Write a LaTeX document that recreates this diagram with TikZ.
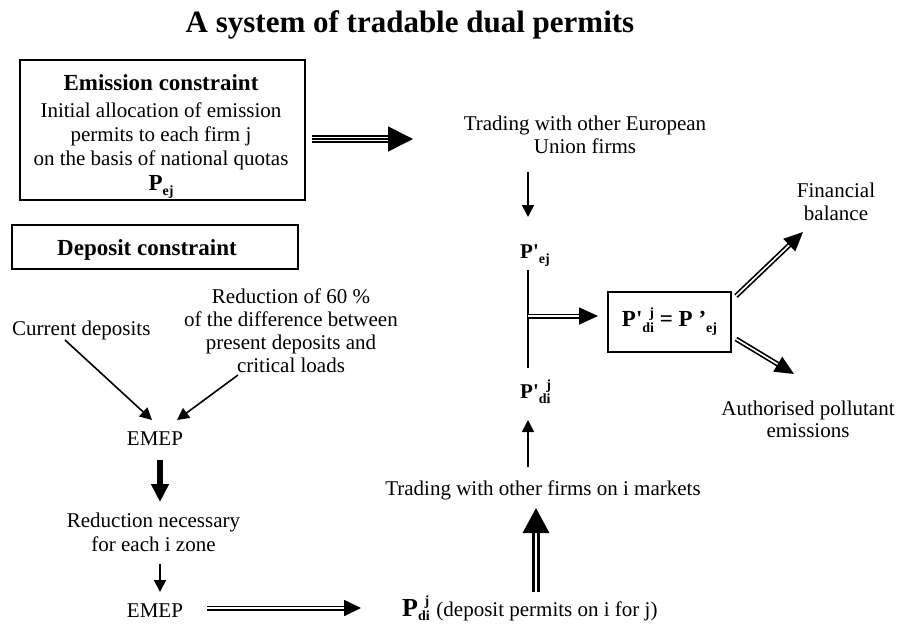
\documentclass[tikz,border=0pt]{standalone}
\usepackage{fontspec}
\setmainfont{Liberation Serif}
\usetikzlibrary{arrows.meta}
\newcommand\mysub[1]{\raisebox{-0.26em}{\fontsize{14}{14}\selectfont\bfseries #1}}
\newcommand\mysup[1]{\raisebox{0.40em}{\fontsize{14}{14}\selectfont\bfseries #1}}
\begin{document}
\begin{tikzpicture}[x=1pt,y=-1pt,
  txt/.style={inner sep=0pt, font=\fontsize{21}{23}\selectfont, align=center},
  head/.style={font=\bfseries\fontsize{23}{23}\selectfont},
  boxst/.style={draw, line width=2pt, inner sep=0pt},
  thinarr/.style={line width=1.6pt, -{Triangle[length=12pt,width=12pt]}},
  dblarr/.style={line width=1.7pt, double, double distance=1.6pt, -{Triangle[length=19pt,width=17pt]}},
  triarr/.style={line width=1.6pt, double, double distance=4.8pt, -{Triangle[length=25pt,width=25pt]}},
  heavyarr/.style={line width=3.3pt, double, double distance=1.4pt, -{Triangle[length=25pt,width=26pt]}},
  solidarr/.style={line width=6pt, -{Triangle[length=18pt,width=17pt]}}
]
\useasboundingbox (0,0) rectangle (897,624);

% title
\node[inner sep=0pt, font=\bfseries\fontsize{31}{31}\selectfont, anchor=base] (title) at (410,32) {A system of tradable dual permits};

% emission constraint box (multi-line nodes: base = last baseline)
\node[boxst, minimum width=285pt, minimum height=140pt] (emisbox) at (162.5,130) {};
\node[txt, font=\fontsize{21}{24}\selectfont, anchor=base] (emis) at (161,190)
  {{\bfseries\fontsize{23}{23}\selectfont Emission constraint}\\[3pt]
   Initial allocation of emission\\
   permits to each firm j\\
   on the basis of national quotas\\[1pt]
   {\bfseries\fontsize{23}{23}\selectfont P\mysub{ej}}};

% trading EU
\node[txt, anchor=base] (eu) at (585,153) {Trading with other European\\Union firms};
\node[inner sep=0pt, anchor=base west] (pej) at (520,258) {\bfseries\fontsize{21}{21}\selectfont P\textquotesingle\mysub{ej}};

% equality box
\node[boxst, minimum width=123pt, minimum height=60pt] (eq) at (669.5,322)
  {\bfseries\fontsize{23}{23}\selectfont P\textquotesingle\mysub{di}\kern-0.2em\mysup{j} = P ’\mysub{ej}};

\node[inner sep=0pt, anchor=base west] (pdip) at (520,398) {\bfseries\fontsize{21}{21}\selectfont P\textquotesingle\mysub{di}\kern-0.2em\mysup{j}};

\node[txt, anchor=base] (fin) at (836,220) {Financial\\balance};
\node[txt, font=\fontsize{21}{22}\selectfont, anchor=base] (auth) at (808,437) {Authorised pollutant\\emissions};

\node[txt, anchor=base] (trfirms) at (543,495) {Trading with other firms on i markets};
\node[inner sep=0pt, anchor=base west, font=\fontsize{21}{21}\selectfont] (pdi) at (402,616)
  {{\bfseries\fontsize{26}{26}\selectfont P\raisebox{-0.18em}{\fontsize{14}{14}\selectfont\bfseries di}\kern-0.2em\mysup{j}}\kern2pt{} (deposit permits on i for j)};

% deposit constraint
\node[boxst, minimum width=286pt, minimum height=44pt] (depbox) at (155,247) {};
\node[inner sep=0pt, head, anchor=base] (dep) at (147,255) {Deposit constraint};

\node[txt, anchor=base west] (cur) at (12,335) {Current deposits};
\node[txt, anchor=base] (red60) at (291,372) {Reduction of 60 \%\\of the difference between\\present deposits and\\critical loads};

\node[txt, anchor=base] (emep1) at (155,445) {EMEP};
\node[txt, font=\fontsize{21}{24}\selectfont, anchor=base] (rednec) at (153.5,551) {Reduction necessary\\for each i zone};
\node[txt, anchor=base] (emep2) at (155,617) {EMEP};

% connector end points
\coordinate (c1s) at (312,139);  \coordinate (c1e) at (413,139);
\coordinate (c2s) at (528,172);  \coordinate (c2e) at (528,217);
\coordinate (v1) at (528,270);   \coordinate (v2) at (528,368);
\coordinate (c3s) at (528,316);  \coordinate (c3e) at (598,316);
\coordinate (c4s) at (736,296);  \coordinate (c4e) at (803,232);
\coordinate (c5s) at (736,339);  \coordinate (c5e) at (794,374);
\coordinate (c6s) at (528,467);  \coordinate (c6e) at (528,420);
\coordinate (c7s) at (536,592);  \coordinate (c7e) at (536,508);
\coordinate (c8s) at (207,608);  \coordinate (c8e) at (361,608);
\coordinate (c9s) at (65,340);   \coordinate (c9e) at (152,420);
\coordinate (c10s) at (238,375); \coordinate (c10e) at (177,420);
\coordinate (c11s) at (160,460); \coordinate (c11e) at (160,502);
\coordinate (c12s) at (160,564); \coordinate (c12e) at (160,592);

% connectors
\draw[triarr] (c1s) -- (c1e);
\draw[line width=1.4pt, shorten >=24pt] (c1s) -- (c1e);
\draw[thinarr] (c2s) -- (c2e);
\draw[line width=1.6pt] (v1) -- (v2);
\draw[dblarr] (c3s) -- (c3e);
\draw[dblarr] (c4s) -- (c4e);
\draw[dblarr] (c5s) -- (c5e);
\draw[thinarr] (c6s) -- (c6e);
\draw[heavyarr] (c7s) -- (c7e);
\draw[dblarr, -{Triangle[length=17pt,width=16pt]}] (c8s) -- (c8e);
\draw[thinarr] (c9s) -- (c9e);
\draw[thinarr] (c10s) -- (c10e);
\draw[solidarr] (c11s) -- (c11e);
\draw[thinarr] (c12s) -- (c12e);
\end{tikzpicture}
\end{document}
